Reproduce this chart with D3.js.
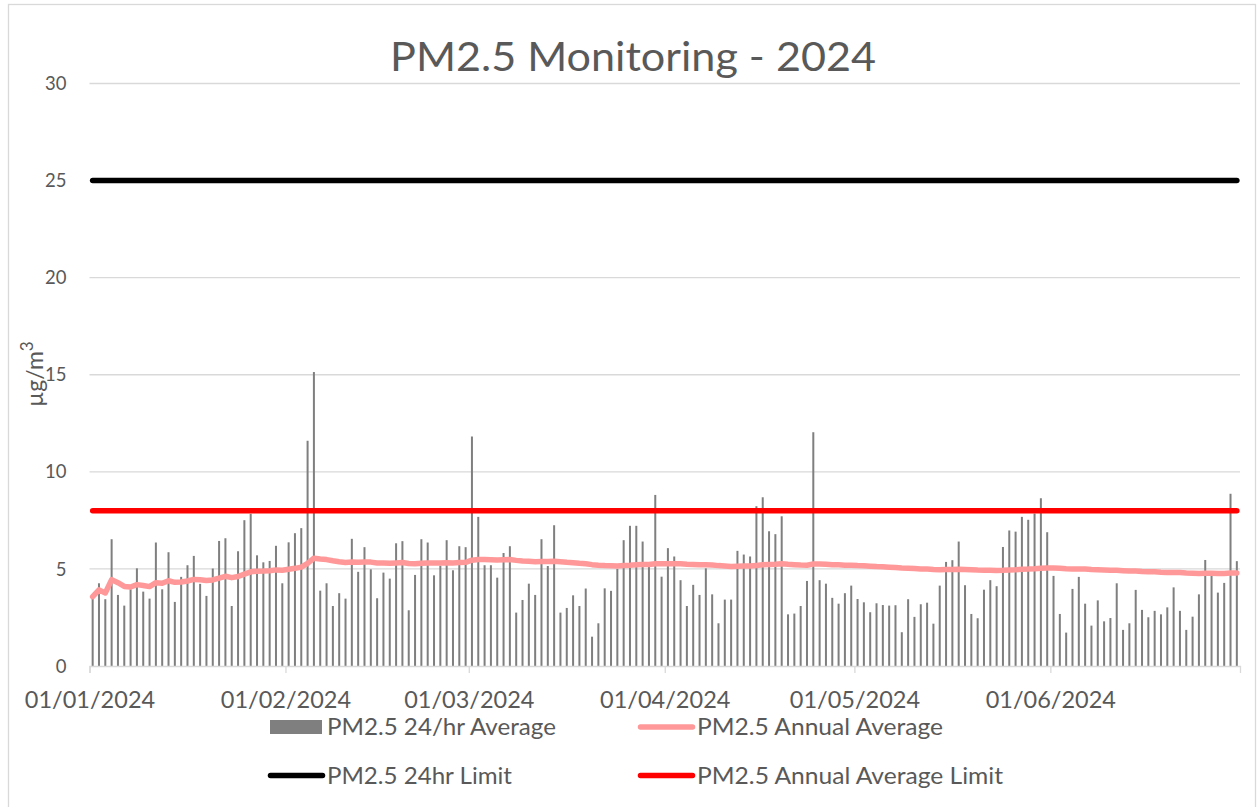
<!DOCTYPE html>
<html><head><meta charset="utf-8">
<script src="https://cdn.jsdelivr.net/npm/d3@7"></script>
<style>
html,body{margin:0;padding:0;background:#fff;}
svg{display:block;font-family:Lato,"Open Sans",sans-serif;}
</style></head><body>
<svg id="chart" width="1257" height="807"></svg>
<script>
const chartTitle = "PM2.5 Monitoring - 2024";
const yAxisTitle = "µg/m";
const yAxisTitleSup = "3";
const tickLabels = ["01/01/2024","01/02/2024","01/03/2024","01/04/2024","01/05/2024","01/06/2024"];
const yTicks = [0,5,10,15,20,25,30];
const seriesNames = ["PM2.5 24/hr Average","PM2.5 Annual Average","PM2.5 24hr Limit","PM2.5 Annual Average Limit"];
const limit24hr = 25;
const annualLimit = 8;
const dailyAverage = [
3.57,4.26,3.44,6.53,3.66,3.11,3.95,5.03,3.83,3.47,
6.36,3.95,5.86,3.30,4.59,5.19,5.67,4.23,3.61,5.02,
6.44,6.58,3.09,5.91,7.51,7.84,5.70,5.34,5.41,6.19,
4.26,6.37,6.84,7.10,11.60,15.14,3.88,4.26,3.09,3.75,
3.47,6.55,4.85,6.12,4.98,3.49,4.81,4.50,6.32,6.43,
2.87,4.69,6.53,6.36,4.67,5.17,6.48,4.93,6.17,6.12,
11.82,7.68,5.19,5.19,4.55,5.82,6.17,2.75,3.40,4.24,
3.66,6.53,5.15,7.25,2.75,2.99,3.64,3.09,3.99,1.51,
2.20,4.00,3.87,5.00,6.48,7.22,7.22,6.41,5.12,8.81,
4.60,6.07,5.64,4.42,3.09,4.18,3.66,5.03,3.69,2.20,
3.42,3.42,5.93,5.74,5.64,8.23,8.69,6.94,6.79,7.71,
2.66,2.70,3.09,4.38,12.04,4.42,4.24,3.51,3.21,3.75,
4.14,3.45,3.28,2.77,3.23,3.14,3.11,3.13,1.74,3.44,
2.53,3.18,3.26,2.18,4.14,5.36,5.45,6.41,4.16,2.68,
2.46,3.93,4.42,4.11,6.13,6.98,6.92,7.68,7.53,7.85,
8.64,6.89,4.64,2.68,1.72,3.97,4.59,3.21,2.08,3.38,
2.30,2.47,4.26,1.86,2.20,3.92,2.89,2.51,2.84,2.66,
3.02,4.05,2.84,1.86,2.54,3.69,5.46,4.69,3.78,4.28,
8.87,5.40];
const annualAverage = [
3.57,3.92,3.76,4.45,4.29,4.10,4.07,4.19,4.15,4.09,
4.29,4.26,4.39,4.31,4.33,4.38,4.46,4.44,4.40,4.43,
4.53,4.62,4.55,4.61,4.73,4.85,4.88,4.89,4.91,4.95,
4.93,4.98,5.03,5.09,5.28,5.55,5.51,5.48,5.42,5.37,
5.33,5.36,5.34,5.36,5.35,5.31,5.30,5.29,5.31,5.33,
5.28,5.27,5.29,5.31,5.30,5.30,5.32,5.31,5.33,5.34,
5.45,5.48,5.48,5.47,5.46,5.47,5.48,5.44,5.41,5.39,
5.37,5.38,5.38,5.40,5.37,5.34,5.32,5.29,5.27,5.22,
5.19,5.17,5.16,5.15,5.17,5.19,5.22,5.23,5.23,5.27,
5.26,5.27,5.27,5.26,5.24,5.23,5.21,5.21,5.20,5.17,
5.15,5.13,5.14,5.15,5.15,5.18,5.21,5.23,5.24,5.27,
5.24,5.22,5.20,5.19,5.25,5.25,5.24,5.22,5.21,5.19,
5.19,5.17,5.16,5.14,5.12,5.11,5.09,5.07,5.05,5.04,
5.02,5.00,4.99,4.97,4.96,4.97,4.97,4.98,4.97,4.96,
4.94,4.93,4.93,4.92,4.93,4.95,4.96,4.98,4.99,5.01,
5.04,5.05,5.05,5.03,5.01,5.00,5.00,4.99,4.97,4.96,
4.95,4.93,4.93,4.91,4.89,4.89,4.87,4.86,4.85,4.83,
4.82,4.82,4.81,4.79,4.78,4.77,4.78,4.78,4.77,4.77,
4.79,4.79];

const svg = d3.select("#chart");
const textColor = "#595959", gridColor = "#d9d9d9";
const start = new Date(Date.UTC(2024,0,1)), end = new Date(Date.UTC(2024,6,1));
const days = d3.utcDay.range(start, end);
const monthStarts = d3.utcMonth.range(start, end);

const x = d3.scaleUtc().domain([start, end]).range([89.5, 1240]);
const y = d3.scaleLinear().domain([0, 30]).range([666, 83.5]);
const cx = d => x(d3.utcHour.offset(d, 12));

svg.append("rect").attr("width",1257).attr("height",807).attr("fill","#fff");
svg.append("rect").attr("x",8.5).attr("y",4.5).attr("width",1247).attr("height",812)
  .attr("fill","none").attr("stroke",gridColor).attr("stroke-width",1.3);

// title
svg.append("text").attr("x",633).attr("y",70.7).attr("text-anchor","middle")
  .attr("fill",textColor).attr("font-size",40).attr("font-weight",400)
  .attr("textLength",486).attr("lengthAdjust","spacingAndGlyphs").text(chartTitle);

// gridlines
svg.append("g").selectAll("line").data(yTicks.filter(t=>t>0)).join("line")
  .attr("x1",x.range()[0]).attr("x2",x.range()[1])
  .attr("y1",d=>y(d)).attr("y2",d=>y(d))
  .attr("stroke",gridColor).attr("stroke-width",1.3);

// y labels
svg.append("g").selectAll("text").data(yTicks).join("text")
  .attr("x",66.5).attr("y",d=>y(d)).attr("dy","0.36em").attr("text-anchor","end")
  .attr("fill",textColor).attr("font-size",18.5).text(d=>d);

// y title
const yt = svg.append("text").attr("transform","translate(43,374) rotate(-90)")
  .attr("text-anchor","middle").attr("fill",textColor).attr("font-size",23);
yt.append("tspan").text(yAxisTitle);
yt.append("tspan").attr("dy",-10).attr("font-size",17).text(yAxisTitleSup);

// bars
svg.append("g").selectAll("rect").data(dailyAverage).join("rect")
  .attr("x",(v,i)=>cx(days[i])-1).attr("width",2)
  .attr("y",v=>y(v)).attr("height",v=>y(0)-y(v))
  .attr("fill","#7f7f7f");

// x axis
const xAxis = svg.append("g").attr("transform",`translate(0,${y(0)})`)
  .call(d3.axisBottom(x).tickValues(monthStarts).tickFormat((d,i)=>tickLabels[i])
    .tickSizeInner(7).tickSizeOuter(7).tickPadding(18));
xAxis.select(".domain").attr("stroke",gridColor).attr("stroke-width",1.3);
xAxis.selectAll(".tick line").attr("stroke",gridColor).attr("stroke-width",1.3);
xAxis.selectAll(".tick text").attr("fill",textColor).attr("font-size",23.5)
  .attr("font-family","Lato,'Open Sans',sans-serif");

// annual average line
svg.append("path").datum(annualAverage)
  .attr("d", d3.line().x((v,i)=>cx(days[i])).y(v=>y(v)))
  .attr("fill","none").attr("stroke","#ff9999").attr("stroke-width",5.5)
  .attr("stroke-linejoin","round").attr("stroke-linecap","round");

// limit lines
const first = cx(days[0]), last = cx(days[days.length-1]);
[[limit24hr,"#000000"],[annualLimit,"#ff0000"]].forEach(([v,c])=>{
  svg.append("line").attr("x1",first).attr("x2",last).attr("y1",y(v)).attr("y2",y(v))
    .attr("stroke",c).attr("stroke-width",5.5).attr("stroke-linecap","round");
});

// legend
const legendItems = [
  {name:seriesNames[0], type:"rect", color:"#7f7f7f", col:0, row:0, w:229},
  {name:seriesNames[1], type:"line", color:"#ff9999", col:1, row:0, w:246},
  {name:seriesNames[2], type:"line", color:"#000000", col:0, row:1, w:185},
  {name:seriesNames[3], type:"line", color:"#ff0000", col:1, row:1, w:306}
];
const colX = [268, 638], rowY = [727, 775.5];
const lg = svg.append("g");
legendItems.forEach(it=>{
  const x0 = colX[it.col], yc = rowY[it.row];
  if (it.type==="rect") {
    lg.append("rect").attr("x",x0+2).attr("y",yc-7).attr("width",52).attr("height",14).attr("fill",it.color);
  } else {
    lg.append("line").attr("x1",x0+2.5).attr("x2",x0+54.5).attr("y1",yc).attr("y2",yc)
      .attr("stroke",it.color).attr("stroke-width",5.5).attr("stroke-linecap","round");
  }
  lg.append("text").attr("x",x0+59).attr("y",yc+8).attr("fill",textColor)
    .attr("font-size",23.5).attr("textLength",it.w).attr("lengthAdjust","spacingAndGlyphs")
    .text(it.name);
});
</script>
</body></html>
